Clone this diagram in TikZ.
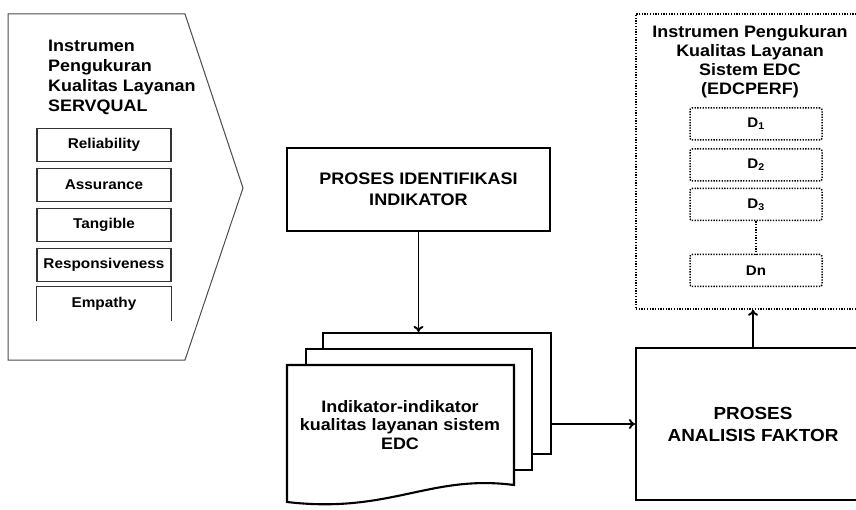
\documentclass[tikz,border=0pt]{standalone}
\usepackage{fontspec}
\setmainfont{Liberation Sans}[FakeStretch=1.08]
\usetikzlibrary{arrows.meta, positioning}

\tikzset{
  titletext/.style={font=\bfseries\fontsize{16.6}{20}\selectfont, inner sep=0pt},
  itembox/.style={draw=black!80, line width=1.1pt, minimum width=134pt, minimum height=33pt, inner sep=0pt, font=\bfseries\fontsize{14.2}{16}\selectfont},
  dotline/.style={line width=1.5pt, dash pattern=on 1.3pt off 1.4pt},
  dbox/.style={draw, dotline, rounded corners=2pt, minimum width=132pt, minimum height=32pt, inner sep=0pt, font=\bfseries\fontsize{14}{16}\selectfont},
  procbox/.style={draw, line width=2.1pt, align=center, inner sep=0pt, font=\bfseries\fontsize{16.7}{21}\selectfont},
  sheet/.style={draw, line width=2.1pt, fill=white, inner sep=0pt},
  flow/.style={line width=1.9pt, -{To[length=6pt,width=10pt]}}
}

\begin{document}
\begin{tikzpicture}[x=1pt, y=-1pt]
\useasboundingbox (0,0) rectangle (856,510);
\clip (0,0) rectangle (856,510);

% SERVQUAL
\draw[black!70, line width=1pt] (8,14) -- (185,14) -- (243,188) -- (185,360) -- (8,360) -- cycle;
\node[titletext, anchor=west, align=left] (servqual) at (48,77) {Instrumen\\Pengukuran\\Kualitas Layanan\\SERVQUAL};
\foreach \itm [count=\i] in {Reliability,Assurance,Tangible,Responsiveness}{
  \node[itembox] (dim\i) at (104,105+40*\i) {\itm};
}
\node[itembox, draw=none] (dim5) at (104,304) {Empathy};
\draw[black!80, line width=1.1pt] (dim5.south west) -- (dim5.north west) -- (dim5.north east) -- (dim5.south east);

% identifikasi
\node[procbox, minimum width=263pt, minimum height=83pt] (ident) at (418.5,189.5) {PROSES IDENTIFIKASI\\INDIKATOR};

% dokumen
\node[sheet, minimum width=228pt, minimum height=121pt] (back) at (437,393.5) {};
\node[sheet, minimum width=226pt, minimum height=121pt] (middle) at (419,409.5) {};
\filldraw[fill=white, line width=2.1pt] (287,365) -- (514,365) -- (514,485)
  .. controls (430,474) and (390,514) .. (287,502) -- cycle;
\node[align=center, inner sep=0pt, font=\bfseries\fontsize{16.6}{18.5}\selectfont] (indikator) at (400,425) {Indikator-indikator\\kualitas layanan sistem\\EDC};

% analisis
\node[procbox, minimum width=234pt, minimum height=152pt, font=\bfseries\fontsize{17.5}{22}\selectfont] (analisis) at (753,424) {PROSES\\ANALISIS FAKTOR};

% EDCPERF
\node[draw, dotline, minimum width=234pt, minimum height=295pt] (edcperf) at (753,161.5) {};
\node[titletext, align=center, font=\bfseries\fontsize{16.6}{19}\selectfont] (edctitle) at (750,61.5) {Instrumen Pengukuran\\Kualitas Layanan\\Sistem EDC\\(EDCPERF)};
\node[dbox] (d1) at (756,124) {D\textsubscript{1}};
\node[dbox] (d2) at (756,165) {D\textsubscript{2}};
\node[dbox] (d3) at (756,204.5) {D\textsubscript{3}};
\node[dbox] (dn) at (756,270.5) {Dn};
\draw[dotline] (d3) -- (dn);

% panah
\draw[flow] (ident.south) -- (ident.south |- back.north);
\draw[flow] (back.east |- analisis.west) -- (analisis.west);
\draw[flow] (analisis.north) -- (analisis.north |- edcperf.south);
\end{tikzpicture}
\end{document}
